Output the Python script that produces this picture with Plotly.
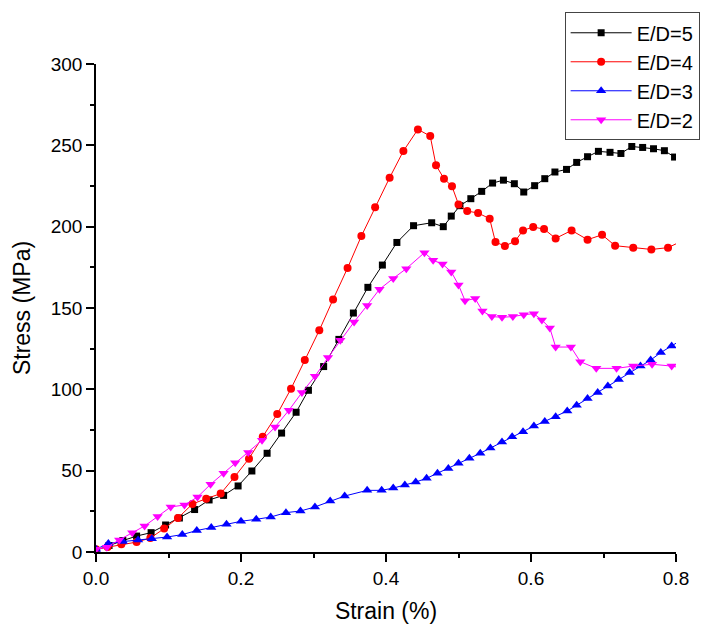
import plotly.graph_objects as go

# E/D = 5 (black squares)
x_ed5 = [0, 0.018, 0.037, 0.056, 0.076, 0.096, 0.115, 0.136, 0.156, 0.176, 0.196, 0.215,
         0.236, 0.256, 0.276, 0.293, 0.314, 0.335, 0.355, 0.375, 0.395, 0.415, 0.438, 0.463,
         0.479, 0.490, 0.502, 0.517, 0.532, 0.547, 0.562, 0.577, 0.590, 0.605, 0.619, 0.633,
         0.649, 0.663, 0.678, 0.693, 0.709, 0.724, 0.739, 0.754, 0.769, 0.784, 0.798]
y_ed5 = [1, 4, 7, 9.8, 11.9, 16.6, 20.9, 26.1, 32, 34.8, 40.6, 49.8,
         60.7, 73.1, 85.9, 99.4, 114, 130.7, 146.9, 162.7, 176.4, 190.3, 200.6, 202.4,
         200, 206.5, 212.9, 217.2, 221.7, 226.8, 228.6, 226.4, 221.3, 225.2, 229.5, 233.6,
         235.2, 239.5, 243, 246.3, 245.7, 245, 249.3, 248.7, 247.9, 246.7, 242.8]

# E/D = 4 (red circles)
x_ed4 = [0, 0.016, 0.035, 0.056, 0.075, 0.094, 0.113, 0.133, 0.152, 0.172, 0.191, 0.211,
         0.230, 0.250, 0.269, 0.288, 0.308, 0.327, 0.347, 0.366, 0.385, 0.405, 0.424, 0.444,
         0.461, 0.469, 0.480, 0.491, 0.500, 0.512, 0.527, 0.543, 0.551, 0.564, 0.578, 0.589,
         0.603, 0.618, 0.634, 0.656, 0.678, 0.698, 0.716, 0.741, 0.766, 0.789, 0.812]
y_ed4 = [1.7, 3, 4.7, 6.1, 8.6, 14.4, 20.9, 29.5, 32.8, 35.9, 46.1, 57.4,
         70.9, 84.8, 100.4, 118, 136.3, 155.3, 174.6, 194.2, 212, 230.1, 246.5, 259.8,
         255.7, 237.7, 229.5, 224.8, 213.7, 209.6, 208.4, 204.9, 190.5, 188.1, 191.1, 197.7,
         199.8, 198.5, 192.8, 197.7, 192, 195, 188.3, 187.1, 186, 187.1, 192]

# E/D = 3 (blue up-triangles)
x_ed3 = [0, 0.017, 0.037, 0.058, 0.077, 0.098, 0.119, 0.139, 0.159, 0.180, 0.200, 0.221,
         0.241, 0.262, 0.282, 0.302, 0.323, 0.343, 0.374, 0.394, 0.410, 0.426, 0.441, 0.456,
         0.471, 0.486, 0.500, 0.515, 0.530, 0.544, 0.560, 0.574, 0.589, 0.604, 0.619, 0.634,
         0.650, 0.663, 0.678, 0.692, 0.706, 0.721, 0.736, 0.751, 0.765, 0.779, 0.794, 0.808]
y_ed3 = [1.7, 5.2, 6.4, 7.4, 8.2, 9.2, 10.7, 13.2, 15, 17, 18.9, 20.1,
         21.5, 24.2, 25.2, 27.7, 31.3, 34.4, 37.9, 37.9, 39.3, 41.2, 43, 45.3,
         48.4, 51.3, 54.5, 57.6, 60.7, 63.9, 67.6, 70.9, 74, 77.4, 80.3, 83.2,
         86.7, 90.2, 94.3, 98, 102, 106.1, 110.3, 114.3, 118, 122.6, 126.6, 130.5]

# E/D = 2 (magenta down-triangles)
x_ed2 = [0, 0.015, 0.032, 0.050, 0.067, 0.085, 0.103, 0.122, 0.140, 0.158, 0.176, 0.192,
         0.210, 0.229, 0.247, 0.266, 0.284, 0.302, 0.320, 0.337, 0.356, 0.374, 0.391, 0.410,
         0.428, 0.453, 0.465, 0.478, 0.490, 0.500, 0.509, 0.523, 0.533, 0.546, 0.560, 0.575,
         0.590, 0.604, 0.615, 0.626, 0.634, 0.655, 0.668, 0.690, 0.718, 0.741, 0.767, 0.794, 0.81]
y_ed2 = [1.7, 2.9, 7.4, 11.9, 16, 21.8, 27.7, 28.9, 33.8, 41.6, 48.4, 54.9,
         61.1, 68.7, 76.8, 87.1, 98, 108, 119.5, 130.1, 141.4, 151.6, 161.5, 168.2,
         174.2, 184, 179.3, 177, 172.2, 164.2, 154.5, 155.8, 148.1, 144.7, 144.3, 144.7,
         145.9, 146.5, 142.6, 137.7, 126, 126, 117, 112.9, 112.9, 114.3, 115.4, 114.3, 113]

series = [
    ("E/D=5", x_ed5, y_ed5, "#000000", "square", 7),
    ("E/D=4", x_ed4, y_ed4, "#FF0000", "circle", 8),
    ("E/D=3", x_ed3, y_ed3, "#0000FF", "triangle-up", 9),
    ("E/D=2", x_ed2, y_ed2, "#FF00FF", "triangle-down", 9),
]

fig = go.Figure()
for name, xs, ys, col, sym, sz in series:
    fig.add_trace(go.Scatter(
        x=xs, y=ys, name=name, mode="lines+markers",
        line=dict(color=col, width=1),
        marker=dict(color=col, symbol=sym, size=sz, line=dict(width=0)),
    ))

font = "Liberation Sans, Arial, sans-serif"
fig.update_layout(
    width=712, height=628,
    margin=dict(l=96, r=32, t=64, b=76),
    paper_bgcolor="white", plot_bgcolor="white",
    font=dict(family=font, size=19, color="black"),
    showlegend=True,
    legend=dict(
        x=0.808, y=1.106, xanchor="left", yanchor="top",
        bordercolor="#444444", borderwidth=1, bgcolor="white",
        font=dict(size=20, family=font), itemwidth=61,
    ),
    xaxis=dict(
        range=[0, 0.8], dtick=0.2, tickformat=".1f", automargin=False,
        showline=True, linecolor="black", linewidth=1.5,
        ticks="outside", ticklen=8, tickwidth=1.5, tickcolor="black",
        minor=dict(dtick=0.1, ticks="outside", ticklen=4, tickwidth=1.5, tickcolor="black"),
        showgrid=False, zeroline=False,
        title=dict(text="Strain (%)", font=dict(size=23), standoff=15),
    ),
    yaxis=dict(
        range=[0, 300], dtick=50, automargin=False,
        showline=True, linecolor="black", linewidth=1.5,
        ticks="outside", ticklen=8, tickwidth=1.5, tickcolor="black",
        minor=dict(dtick=25, ticks="outside", ticklen=4, tickwidth=1.5, tickcolor="black"),
        showgrid=False, zeroline=False,
        title=dict(text="Stress (MPa)", font=dict(size=23), standoff=14),
    ),
)

fig.write_html("out.html")
